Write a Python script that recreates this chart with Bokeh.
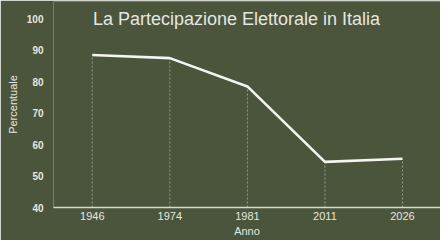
from bokeh.plotting import figure
from bokeh.models import Range1d, FixedTicker, Label, ColumnDataSource
from bokeh.embed import file_html
from bokeh.resources import INLINE

anni = ["1946", "1974", "1981", "2011", "2026"]
affluenza = [88.5, 87.5, 78.5, 54.5, 55.5]
y_ticks = [40, 50, 60, 70, 80, 90, 100]
titolo = "La Partecipazione Elettorale in Italia"

BG = "#4a553b"
FG = "#e6e6e0"

idx = list(range(len(anni)))
base = [40] * len(anni)
src = ColumnDataSource(dict(x=idx, y=affluenza, y0=base))

p = figure(width=440, height=240, output_backend="svg", toolbar_location=None,
           x_range=Range1d(-0.5, 4.49), y_range=Range1d(40, 105.5),
           min_border_left=53, min_border_right=0, min_border_top=1, min_border_bottom=33)
p.background_fill_color = BG
p.border_fill_color = BG
p.outline_line_color = None
p.grid.visible = False

p.segment(x0="x", y0="y0", x1="x", y1="y", source=src, line_color="#b8bdb0",
          line_width=1, line_dash="2 2", line_alpha=0.7)
p.line(x="x", y="y", source=src, line_color="#f4f4f0", line_width=2.6)

p.xaxis.ticker = FixedTicker(ticks=idx)
p.xaxis.major_label_overrides = {i: a for i, a in zip(idx, anni)}
p.xaxis.axis_line_color = "#d8dad2"
p.xaxis.axis_line_width = 1.5
p.xaxis.major_tick_line_color = None
p.xaxis.minor_tick_line_color = None
p.xaxis.major_tick_out = 0
p.xaxis.major_tick_in = 0
p.xaxis.major_label_text_color = FG
p.xaxis.major_label_text_font = "Liberation Sans"
p.xaxis.major_label_text_font_size = "11px"
p.xaxis.major_label_standoff = 4
p.xaxis.axis_label = "Anno"
p.xaxis.axis_label_text_color = FG
p.xaxis.axis_label_text_font = "Liberation Sans"
p.xaxis.axis_label_text_font_style = "normal"
p.xaxis.axis_label_text_font_size = "11px"
p.xaxis.axis_label_standoff = 2

p.yaxis.ticker = FixedTicker(ticks=y_ticks)
p.yaxis.axis_line_color = None
p.yaxis.major_tick_line_color = None
p.yaxis.minor_tick_line_color = None
p.yaxis.major_tick_out = 0
p.yaxis.major_tick_in = 0
p.yaxis.major_label_text_color = FG
p.yaxis.major_label_text_font = "Liberation Sans"
p.yaxis.major_label_text_font_style = "bold"
p.yaxis.major_label_text_font_size = "10px"
p.yaxis.major_label_standoff = 10
p.yaxis.axis_label = "Percentuale"
p.yaxis.axis_label_text_color = FG
p.yaxis.axis_label_text_font = "Liberation Sans"
p.yaxis.axis_label_text_font_style = "normal"
p.yaxis.axis_label_text_font_size = "11px"
p.yaxis.axis_label_standoff = 5

p.add_layout(Label(x=183, y=100, x_units="screen", y_units="data", text=titolo,
                   text_align="center", text_baseline="middle", text_color=FG,
                   text_font="Liberation Sans", text_font_size="18px"))

open("out.html", "w").write(file_html(p, INLINE))
